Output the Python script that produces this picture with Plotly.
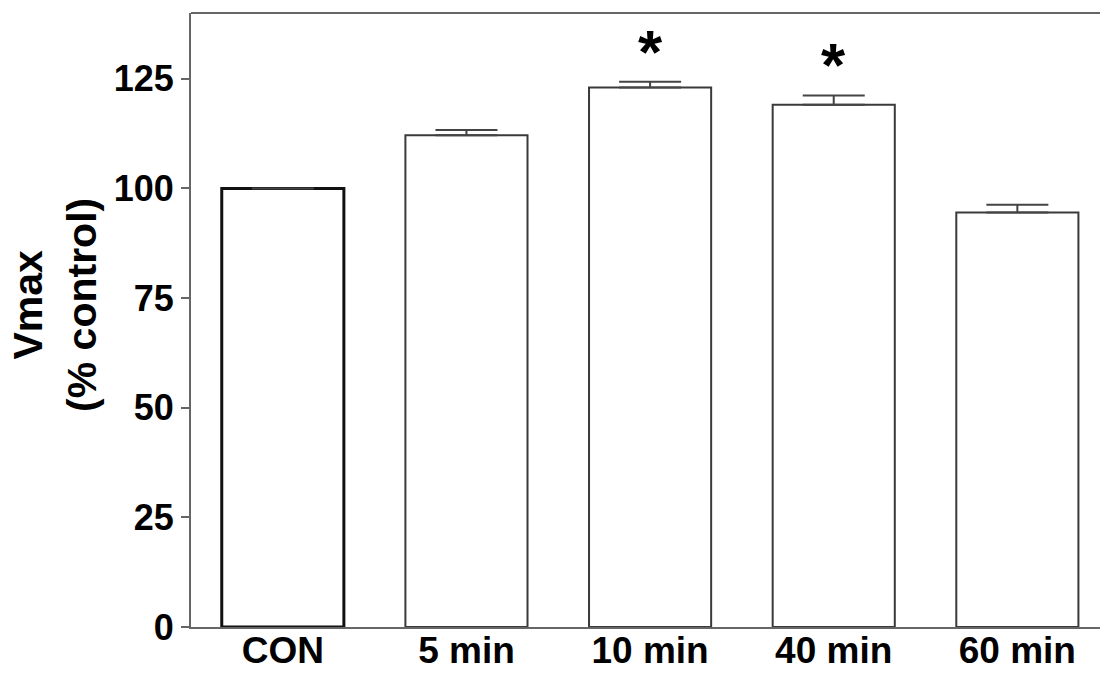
import plotly.graph_objects as go

categories = ["CON", "5 min", "10 min", "40 min", "60 min"]
values = [100.0, 112.1, 123.0, 119.1, 94.5]
errors = [None, 1.2, 1.3, 2.1, 1.8]
significant = [False, False, True, True, False]
y_ticks = [0, 25, 50, 75, 100, 125]

FONT = "Liberation Sans, Arial, sans-serif"

line_colors = ["#111111"] + ["#3a3a3a"] * (len(categories) - 1)
line_widths = [3] + [2] * (len(categories) - 1)

fig = go.Figure()
fig.add_trace(go.Bar(
    x=categories,
    y=values,
    width=0.665,
    marker=dict(color="white", line=dict(color=line_colors, width=line_widths)),
    error_y=dict(type="data", symmetric=False, array=errors,
                 arrayminus=[0] * len(values), color="#444444",
                 thickness=2, width=31),
    showlegend=False,
))

annotations = []
for i, (c, v, e, s) in enumerate(zip(categories, values, errors, significant)):
    if s:
        annotations.append(dict(
            x=c, y=v + (e or 0) - 1.3, xref="x", yref="y",
            text="*", showarrow=False,
            font=dict(family=FONT, size=62, color="black", weight="bold"),
            xanchor="center", yanchor="bottom",
        ))

annotations.append(dict(
    x=-0.15, y=0.524, xref="paper", yref="paper",
    text="Vmax<br>(% control)", showarrow=False,
    textangle=-90, font=dict(family=FONT, size=41, color="black", weight="bold"),
    xanchor="center", yanchor="middle",
))

fig.update_layout(
    width=1100, height=675,
    margin=dict(l=191, r=0, t=13, b=48, pad=0, autoexpand=False),
    paper_bgcolor="white", plot_bgcolor="white",
    font=dict(family=FONT, color="black"),
    annotations=annotations,
    shapes=[dict(type="line", xref="paper", yref="paper", x0=0, x1=1, y0=1, y1=1,
                 line=dict(color="#666666", width=2))],
)
fig.update_xaxes(
    range=[-0.5, 4.45], automargin=False,
    showline=True, linecolor="#666666", linewidth=2,
    ticks="", showgrid=False, zeroline=False,
    ticklabelstandoff=-10,
    tickfont=dict(family=FONT, size=37, color="black", weight="bold"),
)
fig.update_yaxes(
    range=[0, 140], automargin=False,
    tickvals=y_ticks,
    showline=True, linecolor="#666666", linewidth=2,
    ticks="outside", ticklen=8, tickwidth=1.5, tickcolor="#666666",
    showgrid=False, zeroline=False,
    tickfont=dict(family=FONT, size=36, color="black", weight="bold"),
)

fig.write_html("out.html", config={"displayModeBar": False},
               post_script="document.body.style.margin='0';")
